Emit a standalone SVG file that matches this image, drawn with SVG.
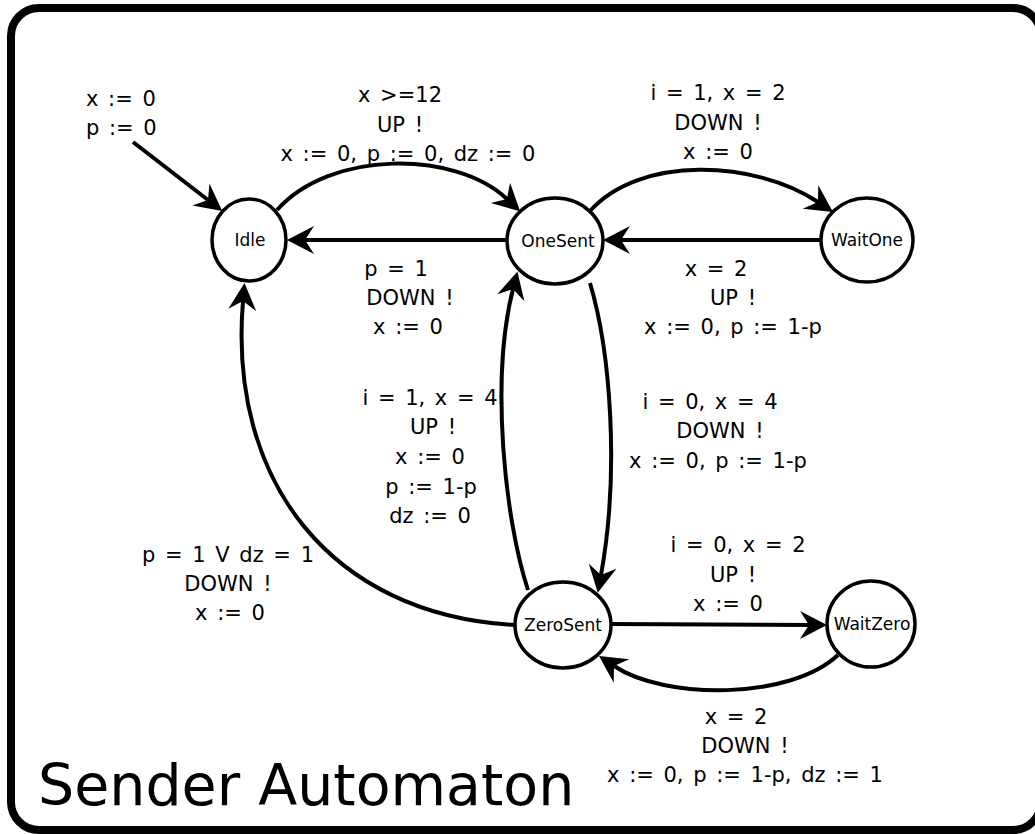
<svg xmlns="http://www.w3.org/2000/svg" width="1035" height="834" viewBox="0 0 1035 834">
<style>
.lbl{font-family:"DejaVu Sans",sans-serif;font-size:21px;word-spacing:3px;fill:#000;text-anchor:middle}
.nl{font-family:"DejaVu Sans",sans-serif;font-size:17px;fill:#000;text-anchor:middle}
.st{fill:#fff;stroke:#000;stroke-width:3.5}
.ed{fill:none;stroke:#000;stroke-width:4;marker-end:url(#ah)}
</style>
<defs>
<marker id="ah" markerUnits="userSpaceOnUse" viewBox="-10 -16 32 32" markerWidth="32" markerHeight="32" refX="0" refY="0" orient="auto">
<path d="M18,0 L-9,-14 L0,0 L-9,14 Z" fill="#000"/>
</marker>
</defs>
<rect x="11" y="8" width="1030" height="822" rx="28" ry="28" fill="#fff" stroke="#000" stroke-width="8"/>
<g id="connectors">
<path class="ed" d="M133,142 L208,200"/>
<path class="ed" d="M277,210 C330,150 455,150 507,199"/>
<path class="ed" d="M507,240 L305,240"/>
<path class="ed" d="M590,211 C640,155 755,160 818,202"/>
<path class="ed" d="M821,240 L621,240"/>
<path class="ed" d="M590,283 C610,350 620,470 601,575"/>
<path class="ed" d="M528,590 C505,520 490,380 513,289"/>
<path class="ed" d="M515,625 C330,615 228,480 243,301"/>
<path class="ed" d="M611,624 L809,625"/>
<path class="ed" d="M838,655 C790,700 665,700 614,666"/>
</g>
<g id="labels">
<text class="lbl" style="text-anchor:start" x="86" y="106">x := 0</text>
<text class="lbl" style="text-anchor:start" x="86" y="135">p := 0</text>
<text class="lbl" x="400" y="102">x &gt;=12</text>
<text class="lbl" x="400" y="132">UP !</text>
<text class="lbl" x="408" y="161">x := 0, p := 0, dz := 0</text>
<text class="lbl" x="718" y="100">i = 1, x = 2</text>
<text class="lbl" x="718" y="130">DOWN !</text>
<text class="lbl" x="718" y="159">x := 0</text>
<text class="lbl" x="396" y="276">p = 1</text>
<text class="lbl" x="410" y="305">DOWN !</text>
<text class="lbl" x="408" y="334">x := 0</text>
<text class="lbl" x="716" y="276">x = 2</text>
<text class="lbl" x="733" y="305">UP !</text>
<text class="lbl" x="733" y="334">x := 0, p := 1-p</text>
<text class="lbl" x="430" y="405">i = 1, x = 4</text>
<text class="lbl" x="433" y="434">UP !</text>
<text class="lbl" x="430" y="464">x := 0</text>
<text class="lbl" x="431" y="494">p := 1-p</text>
<text class="lbl" x="430" y="523">dz := 0</text>
<text class="lbl" x="710" y="409">i = 0, x = 4</text>
<text class="lbl" x="720" y="438">DOWN !</text>
<text class="lbl" x="718" y="468">x := 0, p := 1-p</text>
<text class="lbl" x="228" y="562">p = 1 V dz = 1</text>
<text class="lbl" x="228" y="591">DOWN !</text>
<text class="lbl" x="230" y="620">x := 0</text>
<text class="lbl" x="738" y="552">i = 0, x = 2</text>
<text class="lbl" x="733" y="582">UP !</text>
<text class="lbl" x="728" y="611">x := 0</text>
<text class="lbl" x="736" y="724">x = 2</text>
<text class="lbl" x="745" y="753">DOWN !</text>
<text class="lbl" x="745" y="782">x := 0, p := 1-p, dz := 1</text>
<text style="font-family:'DejaVu Sans',sans-serif;font-size:57px" x="38" y="805">Sender Automaton</text>
</g>
<g id="Idle"><ellipse class="st" cx="249" cy="240" rx="37" ry="41"/><text class="nl" x="250" y="246">Idle</text></g>
<g id="OneSent"><ellipse class="st" cx="555" cy="241" rx="48" ry="43"/><text class="nl" x="558" y="247">OneSent</text></g>
<g id="WaitOne"><ellipse class="st" cx="867" cy="240" rx="46" ry="42"/><text class="nl" x="867" y="246">WaitOne</text></g>
<g id="ZeroSent"><ellipse class="st" cx="563" cy="625" rx="48" ry="43"/><text class="nl" x="563" y="631">ZeroSent</text></g>
<g id="WaitZero"><ellipse class="st" cx="871" cy="624" rx="44" ry="43"/><text class="nl" x="872" y="630">WaitZero</text></g>
</svg>
